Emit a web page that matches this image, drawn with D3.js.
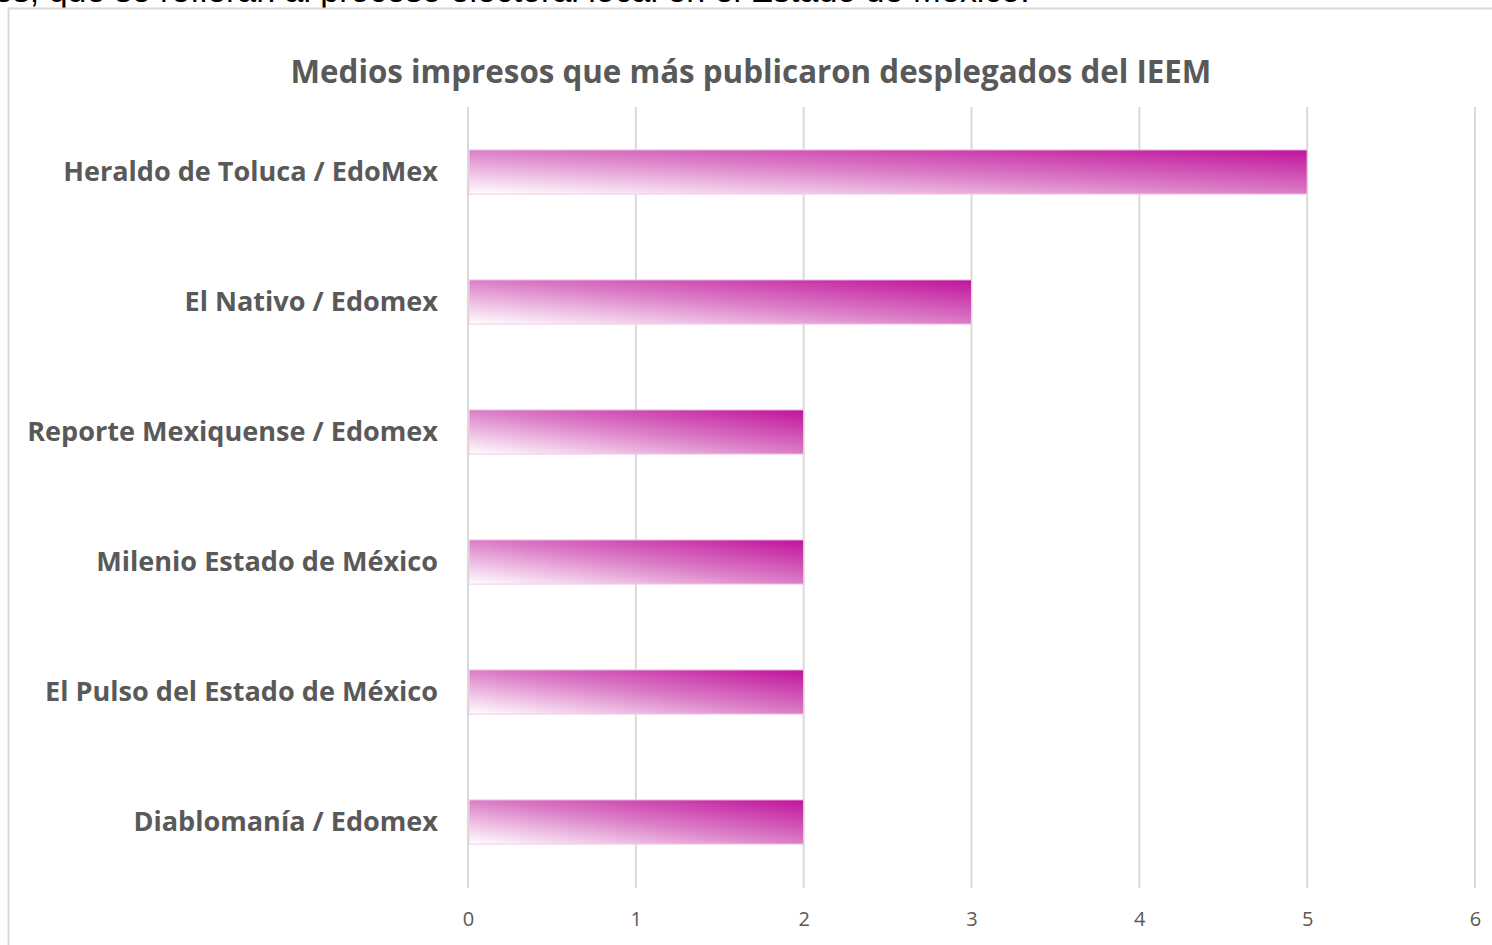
<!DOCTYPE html>
<html>
<head>
<meta charset="utf-8">
<script src="https://cdn.jsdelivr.net/npm/d3@7"></script>
<style>
html,body{margin:0;padding:0;background:#fff;overflow:hidden;}
svg{display:block;}
</style>
</head>
<body>
<svg id="chart" width="1492" height="945"></svg>
<script>
const categories = [
  "Heraldo de Toluca / EdoMex",
  "El Nativo / Edomex",
  "Reporte Mexiquense / Edomex",
  "Milenio Estado de México",
  "El Pulso del Estado de México",
  "Diablomanía / Edomex"
];
const values = [5, 3, 2, 2, 2, 2];
const tickValues = [0, 1, 2, 3, 4, 5, 6];
const title = "Medios impresos que más publicaron desplegados del IEEM";
const precedingText = "es, que se refieran al proceso electoral local en el Estado de México.";

const svg = d3.select("#chart");
const font = "'Open Sans', 'DejaVu Sans', sans-serif";
const textColor = "#595959";
const gridColor = "#d9d9d9";

// gradient
const defs = svg.append("defs");
const grad = defs.append("linearGradient")
  .attr("id", "barGrad")
  .attr("x1", 0).attr("y1", 1).attr("x2", 1).attr("y2", 0);
grad.append("stop").attr("offset", "0%").attr("stop-color", "#ffffff");
grad.append("stop").attr("offset", "50%").attr("stop-color", "#db7ec7");
grad.append("stop").attr("offset", "100%").attr("stop-color", "#c0139b");

// preceding document text, cut off at top (as in the reference)
const pre = svg.append("text")
  .attr("x", -6).attr("y", 2)
  .attr("font-family", "'Liberation Sans', Arial, sans-serif")
  .attr("font-size", 28)
  .attr("fill", "#000")
  .text(precedingText);
{
  const w = pre.node().getComputedTextLength();
  const target = 1036;
  pre.attr("font-size", 28 * target / w);
}

// chart frame
svg.append("rect")
  .attr("x", 8.5).attr("y", 8.5)
  .attr("width", 1600).attr("height", 1000)
  .attr("fill", "none")
  .attr("stroke", gridColor)
  .attr("stroke-width", 2);

// scales
const x = d3.scaleLinear().domain([0, 6]).range([468, 1475]);
const y = d3.scaleBand().domain(categories).range([107, 887])
  .paddingInner(0.66).paddingOuter(0.33);

// gridlines
svg.append("g")
  .selectAll("line")
  .data(tickValues)
  .join("line")
  .attr("x1", d => x(d)).attr("x2", d => x(d))
  .attr("y1", 107).attr("y2", 888)
  .attr("stroke", gridColor)
  .attr("stroke-width", 2);

// bars
svg.append("g")
  .selectAll("rect")
  .data(categories)
  .join("rect")
  .attr("x", x(0) + 1)
  .attr("y", d => y(d))
  .attr("width", (d, i) => x(values[i]) - x(0) - 1)
  .attr("height", y.bandwidth())
  .attr("fill", "url(#barGrad)")
  .attr("stroke", "#f2cde8")
  .attr("stroke-width", 1);

// x-axis tick labels
const xAxis = d3.axisBottom(x).tickValues(tickValues).tickFormat(d3.format("d"))
  .tickSize(0).tickPadding(0);
const gx = svg.append("g").attr("transform", "translate(0,926)").call(xAxis);
gx.select(".domain").remove();
gx.selectAll("text")
  .attr("font-family", font)
  .attr("font-size", 20)
  .attr("fill", textColor)
  .attr("y", 0)
  .attr("dy", 0);

// y-axis category labels
const yAxis = d3.axisLeft(y).tickSize(0).tickPadding(30);
const gy = svg.append("g").attr("transform", `translate(${x(0)},0)`).call(yAxis);
gy.select(".domain").remove();
gy.selectAll("text")
  .attr("font-family", font)
  .attr("font-weight", "bold")
  .attr("font-size", 26)
  .attr("fill", textColor);
{
  // fit widest label to reference width (~411px)
  let maxW = 0;
  gy.selectAll("text").each(function(){ maxW = Math.max(maxW, this.getComputedTextLength()); });
  const fs = 26 * 411 / maxW;
  gy.selectAll("text").attr("font-size", fs);
}

// title
const t = svg.append("text")
  .attr("x", 751).attr("y", 83)
  .attr("text-anchor", "middle")
  .attr("font-family", font)
  .attr("font-weight", "bold")
  .attr("font-size", 30)
  .attr("fill", textColor)
  .text(title);
{
  const w = t.node().getComputedTextLength();
  t.attr("font-size", 30 * 921 / w);
}
</script>
</body>
</html>
